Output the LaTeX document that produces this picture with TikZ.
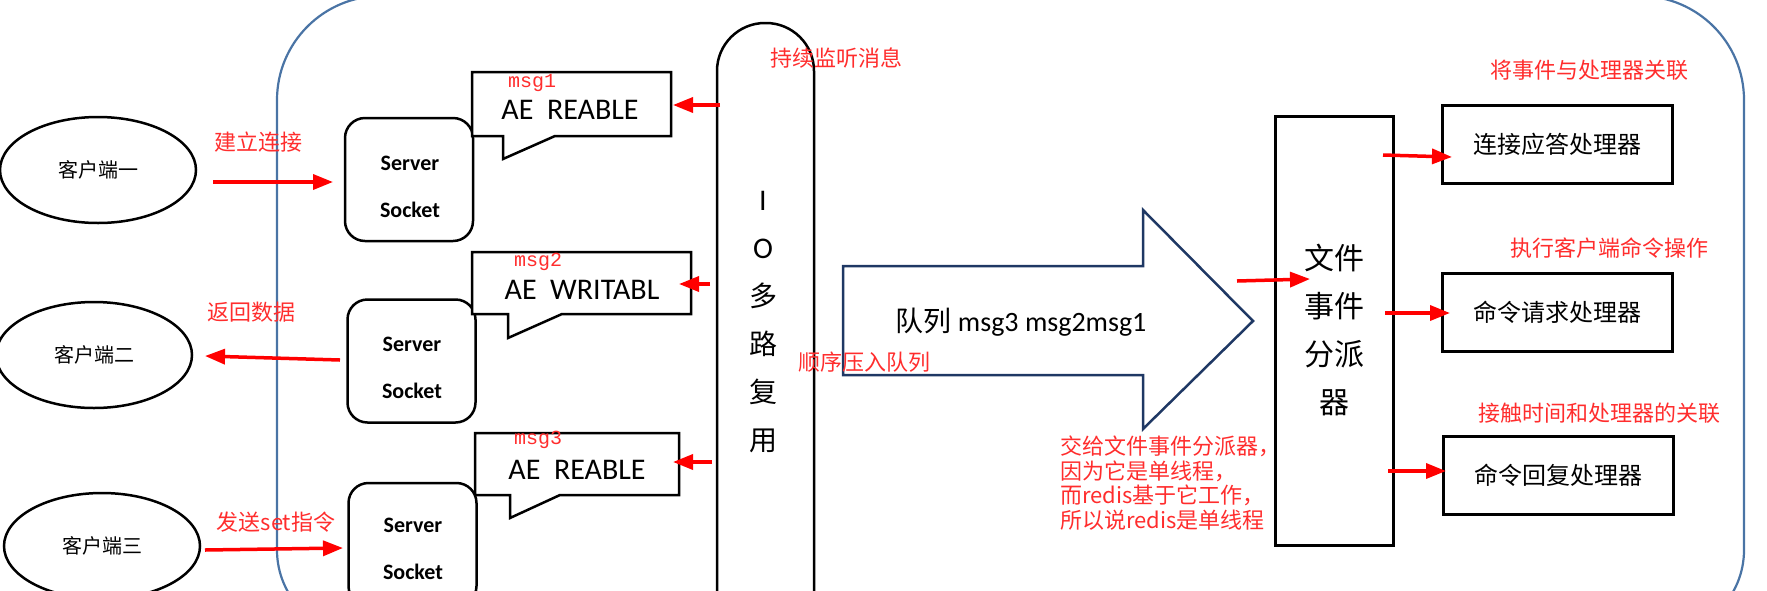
\documentclass[tikz,border=0pt]{standalone}
\usepackage{fontspec}
\setmainfont{Carlito}
\newfontfamily\cjk{Noto Sans CJK SC}
\newfontfamily\monof{Liberation Mono}
\usetikzlibrary{arrows.meta,shapes.geometric}
\definecolor{frameblue}{RGB}{74,116,165}
\definecolor{navyc}{RGB}{31,56,100}
\definecolor{lblred}{RGB}{255,45,45}
\begin{document}
\begin{tikzpicture}[x=1pt,y=-1pt,
  client/.style={ellipse,draw,line width=2.5pt,minimum width=196pt,minimum height=106pt,inner sep=0pt,font=\cjk\fontsize{20}{24}\selectfont},
  sock/.style={rectangle,rounded corners=20pt,draw,line width=2.5pt,minimum width=128pt,minimum height=123pt,inner sep=0pt},
  socktxt/.style={align=center,inner sep=0pt,font=\bfseries\fontsize{22}{47}\selectfont},
  bubble/.style={draw,fill=white,line width=2.5pt,line join=miter},
  aetxt/.style={inner sep=0pt,font=\fontsize{30}{34}\selectfont},
  msgtxt/.style={inner sep=0pt,text=lblred,font=\monof\fontsize{20}{22}\selectfont},
  redlbl/.style={inner sep=0pt,text=lblred,font=\cjk\fontsize{22}{24}\selectfont},
  redarr/.style={draw=red,line width=3.5pt,-{Triangle[length=20pt,width=15pt]}},
  handler/.style={rectangle,draw,line width=3pt,minimum width=230pt,minimum height=78pt,inner sep=0pt,font=\cjk\fontsize{24}{28}\selectfont},
]
\useasboundingbox (0,0) rectangle (1767,590);
\clip (0,0) rectangle (1767,590);

% outer frame
\draw[frameblue,line width=2.2pt]
  (277,300) -- (277,100) .. controls (277,42.6) and (323.6,-4) .. (381,-4)
  -- (1640,-4) .. controls (1697.4,-4) and (1744,42.6) .. (1744,100)
  -- (1744,550) .. controls (1744,597) and (1706,635) .. (1659,635)
  -- (362,635) .. controls (315,635) and (277,597) .. (277,550) -- cycle;

% clients
\node[client] (c1) at (98,170) {客户端一};
\node[client] (c2) at (94,355) {客户端二};
\node[client] (c3) at (102,546) {客户端三};

% server sockets
\node[sock] (s1) at (409,179.5) {};
\node[socktxt] (s1t) at (410,186.5) {Server\\Socket};
\node[sock] (s2) at (411.5,361) {};
\node[socktxt] (s2t) at (412,367.5) {Server\\Socket};
\node[sock] (s3) at (412.5,544.5) {};
\node[socktxt] (s3t) at (413,549) {Server\\Socket};

% client arrows
\coordinate (a1s) at (213,182); \coordinate (a1e) at (333,182);
\coordinate (a2s) at (340,360); \coordinate (a2e) at (205,356);
\coordinate (a3s) at (205,550); \coordinate (a3e) at (343,548);
\draw[redarr] (a1s) -- (a1e);
\draw[redarr] (a2s) -- (a2e);
\draw[redarr] (a3s) -- (a3e);
\node[redlbl] (l1) at (258,142) {建立连接};
\node[redlbl] (l2) at (251,312) {返回数据};
\node[redlbl] (l3) at (276,522) {发送set指令};

% callouts
\draw[bubble] (472,72) -- (671,72) -- (671,136) -- (555,136) -- (503,159) -- (503,136) -- (472,136) -- cycle;
\node[aetxt] (ae1) at (570,110) {AE~~REABLE};
\node[msgtxt] (m1) at (532,83) {msg1};
\draw[bubble] (472,252) -- (691,252) -- (691,314) -- (562,314) -- (508,338) -- (508,314) -- (472,314) -- cycle;
\node[aetxt] (ae2) at (582,290) {AE~~WRITABL};
\node[msgtxt] (m2) at (538,262) {msg2};
\draw[bubble] (475,433) -- (679,433) -- (679,495) -- (560,495) -- (510,518) -- (510,495) -- (475,495) -- cycle;
\node[aetxt] (ae3) at (577,470) {AE~~REABLE};
\node[msgtxt] (m3) at (538,440) {msg3};

% IO multiplexing
\node[rectangle,rounded corners=48pt,draw,line width=2.5pt,minimum width=97pt,minimum height=617pt] (io) at (765.5,331.5) {};
\node[align=center,inner sep=0pt,font=\fontsize{30}{48}\selectfont] (iot) at (763,322)
  {I\\O\\{\cjk\fontsize{28}{48}\selectfont 多}\\{\cjk\fontsize{28}{48}\selectfont 路}\\{\cjk\fontsize{28}{48}\selectfont 复}\\{\cjk\fontsize{28}{48}\selectfont 用}};
\coordinate (b1s) at (720,105); \coordinate (b1e) at (673,105);
\coordinate (b2s) at (710,284); \coordinate (b2e) at (679,284);
\coordinate (b3s) at (712,462); \coordinate (b3e) at (673,462);
\draw[redarr] (b1s) -- (b1e);
\draw[redarr] (b2s) -- (b2e);
\draw[redarr] (b3s) -- (b3e);
\node[redlbl] (l4) at (836,58) {持续监听消息};

% big arrow
\draw[navyc,line width=2.5pt,line join=miter]
  (843,266) -- (1143,266) -- (1143,210) -- (1253,321) -- (1143,429) -- (1143,375) -- (843,375) -- cycle;
\node[inner sep=0pt,font=\fontsize{28}{32}\selectfont] (q) at (1021,322) {{\cjk 队列} msg3 msg2msg1};
\node[redlbl] (l5) at (864,362) {顺序压入队列};

% dispatcher
\node[rectangle,draw,line width=3pt,minimum width=118pt,minimum height=429pt,inner sep=0pt] (disp) at (1334,330.5) {};
\node[align=center,inner sep=0pt,font=\cjk\fontsize{30}{48}\selectfont] (dispt) at (1334,330) {文件\\事件\\分派\\器};
\coordinate (d0s) at (1237,281); \coordinate (d0e) at (1310,279);
\draw[redarr] (d0s) -- (d0e);
\node[redlbl,anchor=north west,align=left,font=\cjk\fontsize{22}{24.5}\selectfont] (l9) at (1060,436)
  {交给文件事件分派器，\\因为它是单线程，\\而redis基于它工作，\\所以说redis是单线程};

% handlers
\node[handler] (h1) at (1557,144) {连接应答处理器};
\node[handler] (h2) at (1557.5,312.5) {命令请求处理器};
\node[handler] (h3) at (1558,475) {命令回复处理器};
\coordinate (e1s) at (1383,155); \coordinate (e1e) at (1452,157);
\coordinate (e2s) at (1385,313); \coordinate (e2e) at (1450,313);
\coordinate (e3s) at (1388,471); \coordinate (e3e) at (1446,471);
\draw[redarr] (e1s) -- (e1e);
\draw[redarr] (e2s) -- (e2e);
\draw[redarr] (e3s) -- (e3e);
\node[redlbl] (l6) at (1589,70) {将事件与处理器关联};
\node[redlbl] (l7) at (1609,248) {执行客户端命令操作};
\node[redlbl] (l8) at (1599,413) {接触时间和处理器的关联};
\end{tikzpicture}
\end{document}
